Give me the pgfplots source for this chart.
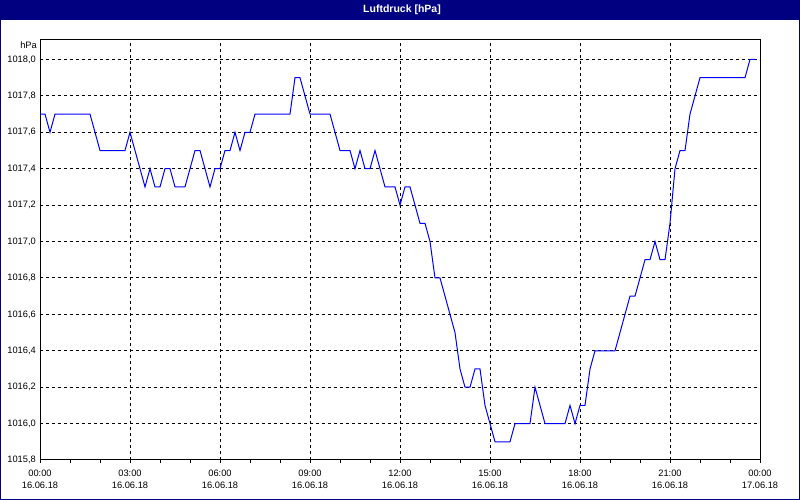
\documentclass[border=0pt]{standalone}
\usepackage{pgfplots}
\pgfplotsset{compat=1.18}
\usepackage{pgfplotstable}
\usepackage{fontspec}
\setmainfont{Liberation Sans}
\definecolor{navy}{RGB}{0,0,128}
\definecolor{lineblue}{RGB}{0,0,255}
\pgfplotstableread{
t p
0 1017.7
10 1017.7
20 1017.6
30 1017.7
40 1017.7
50 1017.7
60 1017.7
70 1017.7
80 1017.7
90 1017.7
100 1017.7
110 1017.6
120 1017.5
130 1017.5
140 1017.5
150 1017.5
160 1017.5
170 1017.5
180 1017.6
190 1017.5
200 1017.4
210 1017.3
220 1017.4
230 1017.3
240 1017.3
250 1017.4
260 1017.4
270 1017.3
280 1017.3
290 1017.3
300 1017.4
310 1017.5
320 1017.5
330 1017.4
340 1017.3
350 1017.4
360 1017.4
370 1017.5
380 1017.5
390 1017.6
400 1017.5
410 1017.6
420 1017.6
430 1017.7
440 1017.7
450 1017.7
460 1017.7
470 1017.7
480 1017.7
490 1017.7
500 1017.7
510 1017.9
520 1017.9
530 1017.8
540 1017.7
550 1017.7
560 1017.7
570 1017.7
580 1017.7
590 1017.6
600 1017.5
610 1017.5
620 1017.5
630 1017.4
640 1017.5
650 1017.4
660 1017.4
670 1017.5
680 1017.4
690 1017.3
700 1017.3
710 1017.3
720 1017.2
730 1017.3
740 1017.3
750 1017.2
760 1017.1
770 1017.1
780 1017.0
790 1016.8
800 1016.8
810 1016.7
820 1016.6
830 1016.5
840 1016.3
850 1016.2
860 1016.2
870 1016.3
880 1016.3
890 1016.1
900 1016.0
910 1015.9
920 1015.9
930 1015.9
940 1015.9
950 1016.0
960 1016.0
970 1016.0
980 1016.0
990 1016.2
1000 1016.1
1010 1016.0
1020 1016.0
1030 1016.0
1040 1016.0
1050 1016.0
1060 1016.1
1070 1016.0
1080 1016.1
1090 1016.1
1100 1016.3
1110 1016.4
1120 1016.4
1130 1016.4
1140 1016.4
1150 1016.4
1160 1016.5
1170 1016.6
1180 1016.7
1190 1016.7
1200 1016.8
1210 1016.9
1220 1016.9
1230 1017.0
1240 1016.9
1250 1016.9
1260 1017.1
1270 1017.4
1280 1017.5
1290 1017.5
1300 1017.7
1310 1017.8
1320 1017.9
1330 1017.9
1340 1017.9
1350 1017.9
1360 1017.9
1370 1017.9
1380 1017.9
1390 1017.9
1400 1017.9
1410 1017.9
1420 1018.0
1430 1018.0
}\pressure
\begin{document}
\begin{tikzpicture}[x=1pt,y=1pt]
\path[use as bounding box] (0,0) rectangle (800,500);
\fill[white] (0,0) rectangle (800,500);
\fill[navy] (0,480) rectangle (800,500);
\draw[navy, line width=1pt] (0.5,0.5) rectangle (799.5,499.5);
\node[text=white, font=\bfseries\fontsize{10.5}{12}\selectfont] at (402,490) {Luftdruck [hPa]};
\begin{axis}[
  at={(40pt,40pt)}, anchor=south west,
  scale only axis, width=720pt, height=420pt,
  xmin=0, xmax=1440, ymin=1015.8, ymax=1018.107,
  xtick={0,180,...,1440},
  minor xtick={60,120,240,300,420,480,600,660,780,840,960,1020,1140,1200,1320,1380},
  xticklabels={{00:00\\16.06.18},{03:00\\16.06.18},{06:00\\16.06.18},{09:00\\16.06.18},{12:00\\16.06.18},{15:00\\16.06.18},{18:00\\16.06.18},{21:00\\16.06.18},{00:00\\17.06.18}},
  ytick={1015.8,1016.0,...,1018.05},
  xtick pos=bottom, ytick pos=left,
  tick align=outside, major tick length=3pt, minor tick length=3pt,
  ytick style={draw=none},
  xtick style={black, line width=1pt},
  minor x tick style={black, line width=1pt},
  axis line style={black, line width=1pt},
  xmajorgrids, ymajorgrids,
  major grid style={black, line width=1pt, dash pattern=on 3pt off 3pt},
  tick label style={font=\fontsize{9.3}{12}\selectfont, text=black},
  xticklabel style={align=center, inner sep=0pt, yshift=-7pt},
  yticklabel style={inner sep=0pt, xshift=-1pt},
  /pgf/number format/.cd, fixed, fixed zerofill, precision=1, use comma, 1000 sep={}, assume math mode=true,
]
\addplot[lineblue, line width=1pt] table[x=t, y=p] {\pressure};
\end{axis}
\node[anchor=east, inner sep=0pt, font=\fontsize{9.3}{11}\selectfont] at (37,455) {hPa};
\end{tikzpicture}
\end{document}
